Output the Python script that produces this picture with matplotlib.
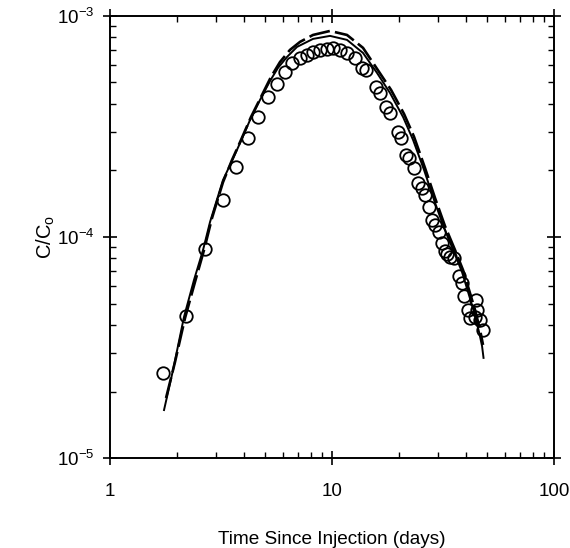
import numpy as np
import matplotlib
matplotlib.use("Agg")
import matplotlib.pyplot as plt
from matplotlib.ticker import LogLocator, NullFormatter, FixedLocator

plt.rcParams['font.family'] = ['Liberation Sans', 'DejaVu Sans']
plt.rcParams['mathtext.fontset'] = 'custom'
plt.rcParams['mathtext.rm'] = 'Liberation Sans'
plt.rcParams['mathtext.it'] = 'Liberation Sans'

# observed breakthrough (circles)
t_obs = [1.733, 2.199, 2.679, 3.228, 3.694, 4.163, 4.642, 5.148, 5.623, 6.109,
         6.604, 7.177, 7.717, 8.211, 8.833, 9.495, 10.10, 10.87, 11.68, 12.70,
         13.65, 14.23, 15.79, 16.45, 17.51, 18.25, 19.83, 20.46, 21.54, 22.12,
         23.29, 24.40, 25.43, 26.24, 27.35, 28.21, 29.11, 30.18, 31.31, 32.28,
         32.96, 34.00, 35.44, 37.14, 38.31, 39.33, 41.00, 41.86, 44.07, 44.52,
         45.00, 46.42, 47.88]
c_obs = [2.42e-5, 4.39e-5, 8.82e-5, 1.47e-4, 2.07e-4, 2.79e-4, 3.50e-4, 4.28e-4,
         4.94e-4, 5.60e-4, 6.11e-4, 6.46e-4, 6.66e-4, 6.84e-4, 6.98e-4, 7.09e-4,
         7.13e-4, 7.02e-4, 6.80e-4, 6.46e-4, 5.80e-4, 5.70e-4, 4.77e-4, 4.48e-4,
         3.88e-4, 3.62e-4, 2.99e-4, 2.81e-4, 2.35e-4, 2.27e-4, 2.06e-4, 1.76e-4,
         1.67e-4, 1.55e-4, 1.37e-4, 1.19e-4, 1.13e-4, 1.05e-4, 9.44e-5, 8.64e-5,
         8.38e-5, 8.15e-5, 8.01e-5, 6.66e-5, 6.17e-5, 5.41e-5, 4.68e-5, 4.30e-5,
         4.36e-5, 5.19e-5, 4.68e-5, 4.21e-5, 3.80e-5]

# model fit 1 (solid)
t_fit1 = [1.751, 1.922, 2.154, 2.389, 2.624, 2.822, 3.228, 3.544, 3.852, 4.272,
          4.739, 5.257, 5.711, 6.270, 6.956, 8.211, 9.795, 11.68, 13.79, 15.95,
          18.25, 20.89, 23.17, 25.97, 28.81, 31.95, 35.44, 38.51, 41.00, 43.61,
          45.94, 47.40, 48.13]
c_fit1 = [1.65e-5, 2.50e-5, 4.35e-5, 6.39e-5, 8.73e-5, 1.17e-4, 1.81e-4, 2.21e-4,
          2.66e-4, 3.38e-4, 4.17e-4, 5.08e-4, 5.82e-4, 6.52e-4, 7.24e-4, 7.87e-4,
          8.12e-4, 7.79e-4, 6.80e-4, 5.52e-4, 4.48e-4, 3.49e-4, 2.75e-4, 2.01e-4,
          1.47e-4, 1.10e-4, 8.55e-5, 6.94e-5, 5.64e-5, 4.58e-5, 3.72e-5, 3.21e-5,
          2.84e-5]

# model fit 2 (dashed)
t_fit2 = [1.788, 1.962, 2.177, 2.414, 2.651, 2.881, 3.228, 3.544, 3.892, 4.316,
          4.788, 5.312, 5.832, 6.468, 7.177, 8.211, 9.795, 11.68, 13.79, 15.95,
          18.44, 21.11, 23.41, 26.24, 29.11, 32.28, 35.82, 38.91, 41.42, 44.07,
          46.42, 47.88]
c_fit2 = [1.87e-5, 2.72e-5, 4.30e-5, 6.26e-5, 8.73e-5, 1.22e-4, 1.77e-4, 2.23e-4,
          2.75e-4, 3.49e-4, 4.30e-4, 5.30e-4, 6.19e-4, 7.02e-4, 7.63e-4, 8.20e-4,
          8.55e-4, 8.20e-4, 7.17e-4, 5.76e-4, 4.63e-4, 3.60e-4, 2.84e-4, 2.05e-4,
          1.50e-4, 1.12e-4, 8.73e-5, 7.09e-5, 5.76e-5, 4.68e-5, 3.80e-5, 3.25e-5]

fig = plt.figure(figsize=(5.7, 5.48), dpi=100)
ax = fig.add_axes([0.193, 0.164, 0.779, 0.807])

ax.plot(t_fit1, c_fit1, color='black', lw=1.4)
ax.plot(t_fit2, c_fit2, color='black', lw=1.9, ls=(0, (8, 2)))
ax.plot(t_obs, c_obs, 'o', mfc='none', mec='black', ms=9, mew=1.3)

ax.set_xscale('log')
ax.set_yscale('log')
ax.set_xlim(1, 100)
ax.set_ylim(1e-5, 1e-3)

ax.xaxis.set_major_locator(FixedLocator([1, 10, 100]))
ax.set_xticklabels(['1', '10', '100'])
ax.yaxis.set_major_locator(FixedLocator([1e-5, 1e-4, 1e-3]))
ax.set_yticklabels([r'$\mathregular{10^{-5}}$', r'$\mathregular{10^{-4}}$',
                    r'$\mathregular{10^{-3}}$'])
ax.xaxis.set_minor_locator(LogLocator(base=10, subs=np.arange(2, 10)))
ax.yaxis.set_minor_locator(LogLocator(base=10, subs=np.arange(2, 10)))
ax.xaxis.set_minor_formatter(NullFormatter())
ax.yaxis.set_minor_formatter(NullFormatter())

ax.tick_params(which='major', direction='inout', length=10, width=1.2,
               top=True, right=True, labelsize=13.5, pad=6)
ax.tick_params(axis='x', which='major', pad=13)
ax.tick_params(which='minor', direction='in', length=4, width=1,
               top=True, right=True)
for s in ax.spines.values():
    s.set_linewidth(1.4)

ax.set_xlabel('Time Since Injection (days)', fontsize=13.7, labelpad=22)
ax.set_ylabel(r'C/C$_\mathregular{o}$', fontsize=14.5, labelpad=0)

fig.savefig('out.png', dpi=100)
